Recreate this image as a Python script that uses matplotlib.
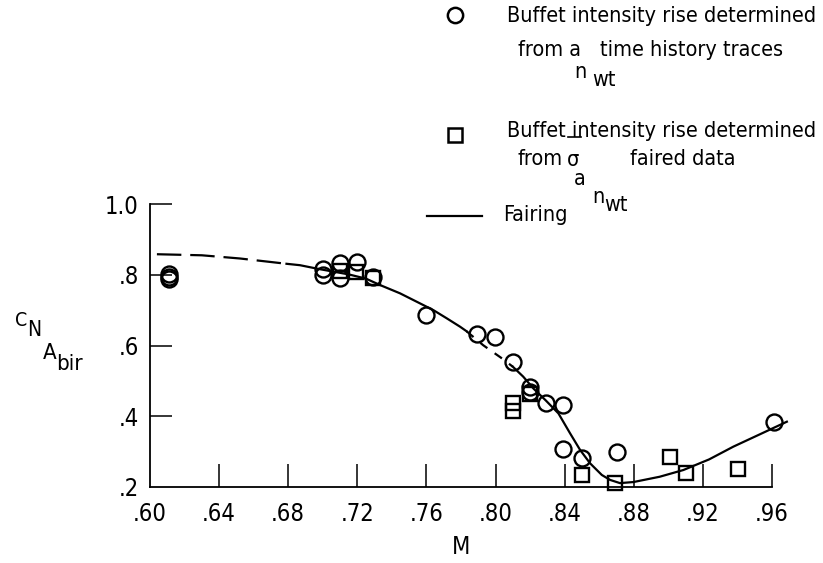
import os
import numpy as np
import matplotlib
matplotlib.use('Agg')
import matplotlib.pyplot as plt
from matplotlib.lines import Line2D
from matplotlib import font_manager

# circles: buffet intensity rise from a_n_wt time histories
circ_M = [0.611, 0.611, 0.611, 0.700, 0.700, 0.710, 0.710, 0.720, 0.729,
          0.760, 0.7895, 0.7997, 0.810, 0.820, 0.820, 0.829, 0.839, 0.839,
          0.8499, 0.8701, 0.961]
circ_C = [0.801, 0.795, 0.789, 0.815, 0.799, 0.832, 0.790, 0.837, 0.793,
          0.686, 0.632, 0.625, 0.553, 0.483, 0.468, 0.437, 0.432, 0.307,
          0.281, 0.300, 0.385]

# squares: from sigma-bar faired data
sq_M = [0.710, 0.719, 0.729, 0.810, 0.810, 0.820, 0.8499, 0.8692, 0.901, 0.910, 0.9406]
sq_C = [0.811, 0.808, 0.790, 0.438, 0.416, 0.462, 0.234, 0.2105, 0.284, 0.240, 0.250]

# fairing
fair_M = [0.604, 0.630, 0.652, 0.679, 0.6868, 0.698, 0.715, 0.725, 0.7331, 0.7447,
          0.7563, 0.764, 0.7717, 0.7795, 0.7833, 0.7928, 0.7986, 0.803, 0.810,
          0.816, 0.822, 0.829, 0.8364, 0.8431, 0.8489, 0.8547, 0.8615, 0.8663,
          0.872, 0.8798, 0.895, 0.9087, 0.9236, 0.9376, 0.953, 0.9686]
fair_C = [0.858, 0.855, 0.846, 0.831, 0.827, 0.816, 0.801, 0.789, 0.771, 0.7475,
          0.719, 0.700, 0.677, 0.653, 0.640, 0.601, 0.581, 0.566, 0.540,
          0.512, 0.478, 0.445, 0.408, 0.352, 0.305, 0.267, 0.234, 0.220,
          0.211, 0.214, 0.229, 0.248, 0.278, 0.314, 0.349, 0.3846]
dash_ranges = [(0.604, 0.679), (0.7833, 0.810)]

xticks = [0.60, 0.64, 0.68, 0.72, 0.76, 0.80, 0.84, 0.88, 0.92, 0.96]
xlabels = ['.60', '.64', '.68', '.72', '.76', '.80', '.84', '.88', '.92', '.96']
yticks = [0.2, 0.4, 0.6, 0.8, 1.0]
ylabels = ['.2', '.4', '.6', '.8', '1.0']

# pick a narrow face if one is on the system
prefs = ['LiberationSansNarrow-Regular.ttf', 'DejaVuSansCondensed.ttf',
         'RobotoCondensed-Regular.ttf', 'LiberationSans-Regular.ttf']
files = {os.path.basename(f.fname): f.fname for f in font_manager.fontManager.ttflist}
font_file = next((files[p] for p in prefs if p in files), None)


def fp(size):
    if font_file:
        return font_manager.FontProperties(fname=font_file, size=size)
    return font_manager.FontProperties(family='DejaVu Sans', size=size)


W, H = 823, 563
fig = plt.figure(figsize=(W / 100, H / 100), dpi=100)


def px(x, y):
    return x / W, 1 - y / H


def txt(x, y, s, size, **kw):
    kw.setdefault('va', 'center')
    kw.setdefault('ha', 'left')
    return fig.text(*px(x, y), s, fontproperties=fp(size), **kw)


ax = fig.add_axes([150 / W, 1 - 487 / H, (772 - 150) / W, (487 - 204) / H])
ax.set_xlim(0.60, 0.96)
ax.set_ylim(0.2, 1.0)
for s in ['top', 'right']:
    ax.spines[s].set_visible(False)
for s in ['left', 'bottom']:
    ax.spines[s].set_linewidth(1.3)

ax.set_xticks(xticks)
ax.set_xticklabels(xlabels, fontproperties=fp(17))
ax.set_yticks(yticks)
ax.set_yticklabels(ylabels, fontproperties=fp(17))
ax.tick_params(axis='x', direction='in', length=16.5, width=1.1, pad=11)
ax.tick_params(axis='y', direction='in', length=16, width=1.1, pad=8)
ax.xaxis.get_major_ticks()[0].tick1line.set_visible(False)
ax.yaxis.get_major_ticks()[0].tick1line.set_visible(False)

# fairing, split into dashed / solid parts
fm = np.array(fair_M)
fc = np.array(fair_C)
edges = sorted(set([fm[0], fm[-1]] + [v for r in dash_ranges for v in r]))
for a, b in zip(edges[:-1], edges[1:]):
    m = (fm >= a - 1e-9) & (fm <= b + 1e-9)
    dashed = any(abs(a - r[0]) < 1e-9 for r in dash_ranges)
    ls = (0, (11, 4)) if a < 0.7 else (0, (4, 4))
    ax.plot(fm[m], fc[m], color='black', lw=1.6, clip_on=False,
            linestyle=ls if dashed else '-', solid_joinstyle='round')

ax.plot(circ_M, circ_C, 'o', ms=11.5, mfc='none', mec='black', mew=1.7, clip_on=False)
ax.plot(sq_M, sq_C, 's', ms=9.5, mfc='none', mec='black', mew=1.7, clip_on=False)

# y label C_N_A_bir
txt(15, 321, 'C', 14)
txt(27, 330, 'N', 15)
txt(43, 353, 'A', 16)
txt(56, 364, 'bir', 16)

txt(461, 547, 'M', 17, ha='center')

# legend
lfs = 15.5
fig.add_artist(Line2D([455 / W], [1 - 15 / H], marker='o', ms=11, mfc='none',
                      mec='black', mew=1.8))
txt(507, 16, 'Buffet intensity rise determined', lfs)
txt(518, 50, 'from a', lfs)
txt(574, 72, 'n', lfs)
txt(592, 80, 'wt', lfs)
txt(600, 50, 'time history traces', lfs)

fig.add_artist(Line2D([455 / W], [1 - 135 / H], marker='s', ms=9.5, mfc='none',
                      mec='black', mew=1.8))
txt(507, 131, 'Buffet intensity rise determined', lfs)
txt(518, 159, 'from', lfs)
txt(567, 160, 'σ', lfs)
fig.add_artist(Line2D([568 / W, 581 / W], [1 - 137 / H, 1 - 137 / H], color='black', lw=1.2))
txt(574, 179, 'a', lfs)
txt(592, 197, 'n', lfs)
txt(604, 205, 'wt', lfs)
txt(630, 159, 'faired data', lfs)

fig.add_artist(Line2D([427 / W, 482 / W], [1 - 216 / H, 1 - 216 / H], color='black', lw=1.6))
txt(503, 215, 'Fairing', lfs)

fig.savefig('out.png', dpi=100)
